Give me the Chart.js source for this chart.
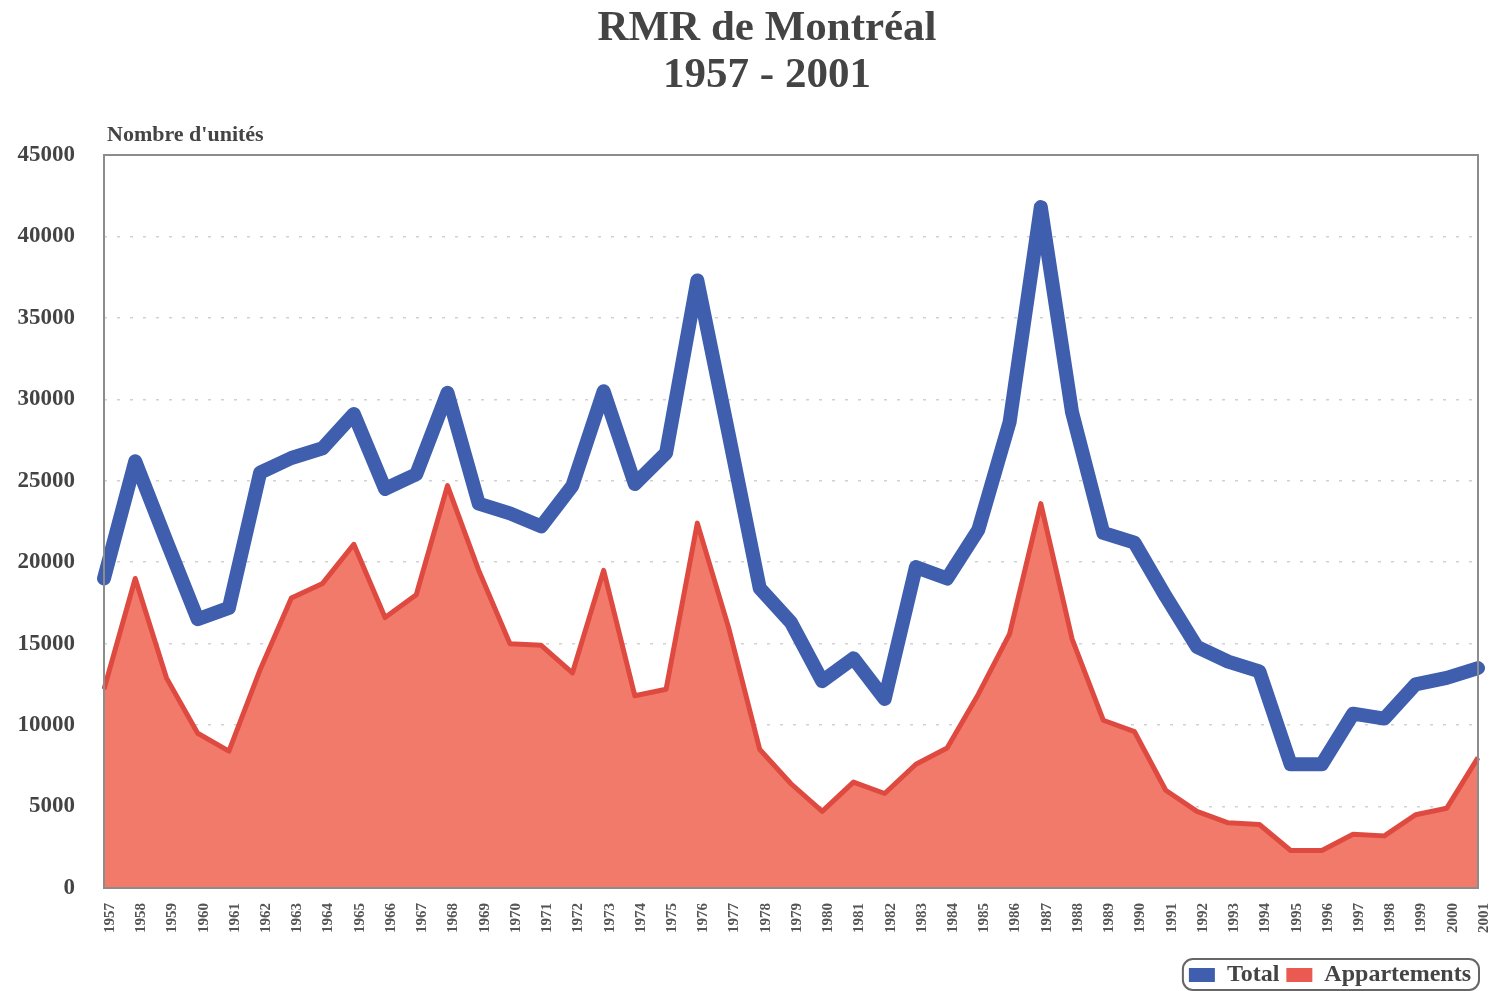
<!DOCTYPE html>
<html>
<head>
<meta charset="utf-8">
<script src="https://cdn.jsdelivr.net/npm/chart.js@4/dist/chart.umd.min.js"></script>
<style>
  html, body { margin: 0; padding: 0; background: #ffffff; }
  #wrap { width: 1489px; height: 991px; position: relative; }
</style>
</head>
<body>
<div id="wrap"><canvas id="c" width="1489" height="991"></canvas></div>
<script>
// Years of the series
const years = [
  '1957','1958','1959','1960','1961','1962','1963','1964','1965','1966',
  '1967','1968','1969','1970','1971','1972','1973','1974','1975','1976',
  '1977','1978','1979','1980','1981','1982','1983','1984','1985','1986',
  '1987','1988','1989','1990','1991','1992','1993','1994','1995','1996',
  '1997','1998','1999','2000','2001'
];

// Housing starts, all types
const totalUnits = [
  19000, 26200, 21300, 16500, 17200, 25500, 26400, 27000, 29100, 24500,
  25400, 30400, 23600, 23000, 22200, 24700, 30500, 24800, 26700, 37300,
  27900, 18400, 16300, 12700, 14100, 11600, 19700, 19000, 22000, 28600,
  41800, 29200, 21800, 21200, 17900, 14800, 13900, 13300, 7600, 7600,
  10700, 10400, 12500, 12900, 13500
];

// Housing starts, apartments
const apartmentUnits = [
  12200, 19000, 12900, 9500, 8400, 13400, 17800, 18700, 21100, 16600,
  18000, 24700, 19500, 15000, 14900, 13200, 19500, 11800, 12200, 22400,
  16000, 8500, 6400, 4700, 6500, 5800, 7600, 8600, 11900, 15600,
  23600, 15300, 10300, 9600, 6000, 4700, 4000, 3900, 2300, 2300,
  3300, 3200, 4500, 4900, 8000
];

const yTicks = [0, 5000, 10000, 15000, 20000, 25000, 30000, 35000, 40000, 45000];

const titleLines = ['RMR de Montréal', '1957 - 2001'];
const unitCaption = "Nombre d'unités";

const SERIF = '"Liberation Serif", "Times New Roman", serif';
const PLOT_LEFT = 104;

// Title, frame around the plot area, unit caption and legend outline
const decorPlugin = {
  id: 'decor',
  afterDatasetsDraw(chart) {
    const { ctx, chartArea: a } = chart;
    ctx.save();
    ctx.strokeStyle = '#8c8c8c';
    ctx.lineWidth = 2;
    ctx.strokeRect(a.left, a.top, a.right - a.left, a.bottom - a.top);
    ctx.restore();
  },
  afterDraw(chart) {
    const { ctx, chartArea: a } = chart;
    ctx.save();

    // two-line title
    ctx.fillStyle = '#444';
    ctx.font = 'bold 43px ' + SERIF;
    ctx.textAlign = 'center';
    ctx.textBaseline = 'middle';
    ctx.fillText(titleLines[0], 767, 29);
    ctx.fillText(titleLines[1], 767, 76);

    // unit caption above the value axis
    ctx.font = 'bold 22px ' + SERIF;
    ctx.textAlign = 'left';
    ctx.textBaseline = 'alphabetic';
    ctx.fillText(unitCaption, a.left + 3, a.top - 14);

    // rounded outline round the legend items
    const boxes = chart.legend.legendHitBoxes;
    if (boxes && boxes.length) {
      let l = Infinity, r = -Infinity, t = Infinity, b = -Infinity;
      boxes.forEach(h => {
        l = Math.min(l, h.left); r = Math.max(r, h.left + h.width);
        t = Math.min(t, h.top); b = Math.max(b, h.top + h.height);
      });
      const x = l - 6, y = t - 4, w = r - l + 14, hh = b - t + 7, rad = 10;
      ctx.strokeStyle = '#666';
      ctx.lineWidth = 2;
      ctx.beginPath();
      ctx.roundRect(x, y, w, hh, rad);
      ctx.stroke();
    }
    ctx.restore();
  }
};

new Chart(document.getElementById('c'), {
  type: 'line',
  data: {
    labels: years,
    datasets: [
      {
        label: 'Total',
        data: totalUnits,
        borderColor: '#3f5fae',
        backgroundColor: '#3f5fae',
        borderWidth: 14,
        borderJoinStyle: 'round',
        borderCapStyle: 'round',
        pointRadius: 0,
        fill: false,
        tension: 0,
        order: 1
      },
      {
        label: 'Appartements',
        data: apartmentUnits,
        borderColor: '#df4a40',
        backgroundColor: '#f27a6a',
        borderWidth: 5,
        borderJoinStyle: 'round',
        pointRadius: 0,
        fill: 'origin',
        tension: 0,
        order: 2
      }
    ]
  },
  options: {
    responsive: false,
    animation: false,
    layout: { padding: { left: 0, right: 11, top: 155, bottom: -6 } },
    plugins: {
      title: { display: false },
      legend: {
        position: 'bottom',
        align: 'end',
        labels: {
          color: '#444',
          font: { family: SERIF, size: 24, weight: 'bold' },
          boxWidth: 26,
          boxHeight: 14,
          padding: 7,
          generateLabels(chart) {
            return chart.data.datasets.map((ds, i) => ({
              text: ds.label,
              fillStyle: i === 0 ? '#3f5fae' : '#ea5a50',
              strokeStyle: i === 0 ? '#3f5fae' : '#ea5a50',
              lineWidth: 0,
              fontColor: '#444',
              datasetIndex: i
            }));
          }
        }
      },
      tooltip: { enabled: false }
    },
    scales: {
      x: {
        type: 'category',
        offset: false,
        grid: { display: false, drawTicks: false },
        border: { display: false },
        ticks: {
          autoSkip: false,
          minRotation: 90,
          maxRotation: 90,
          padding: 15,
          labelOffset: 6,
          color: '#555',
          font: { family: SERIF, size: 15, weight: 'bold' }
        },
        afterFit(scale) {
          scale.height = 68;
          scale.paddingRight = 0;
          scale.paddingLeft = 0;
        }
      },
      y: {
        min: 0,
        max: 45000,
        afterBuildTicks(scale) { scale.ticks = yTicks.map(v => ({ value: v })); },
        grid: {
          color: 'rgba(190,190,190,0.7)',
          lineWidth: 1.5,
          drawTicks: false
        },
        border: { display: false, dash: [3, 10] },
        ticks: {
          padding: 29,
          color: '#444',
          font: { family: SERIF, size: 23, weight: 'bold' },
          callback: v => String(v)
        },
        afterFit(scale) {
          scale.width = PLOT_LEFT;
          scale.paddingTop = 0;
        }
      }
    }
  },
  plugins: [decorPlugin]
});
</script>
</body>
</html>
